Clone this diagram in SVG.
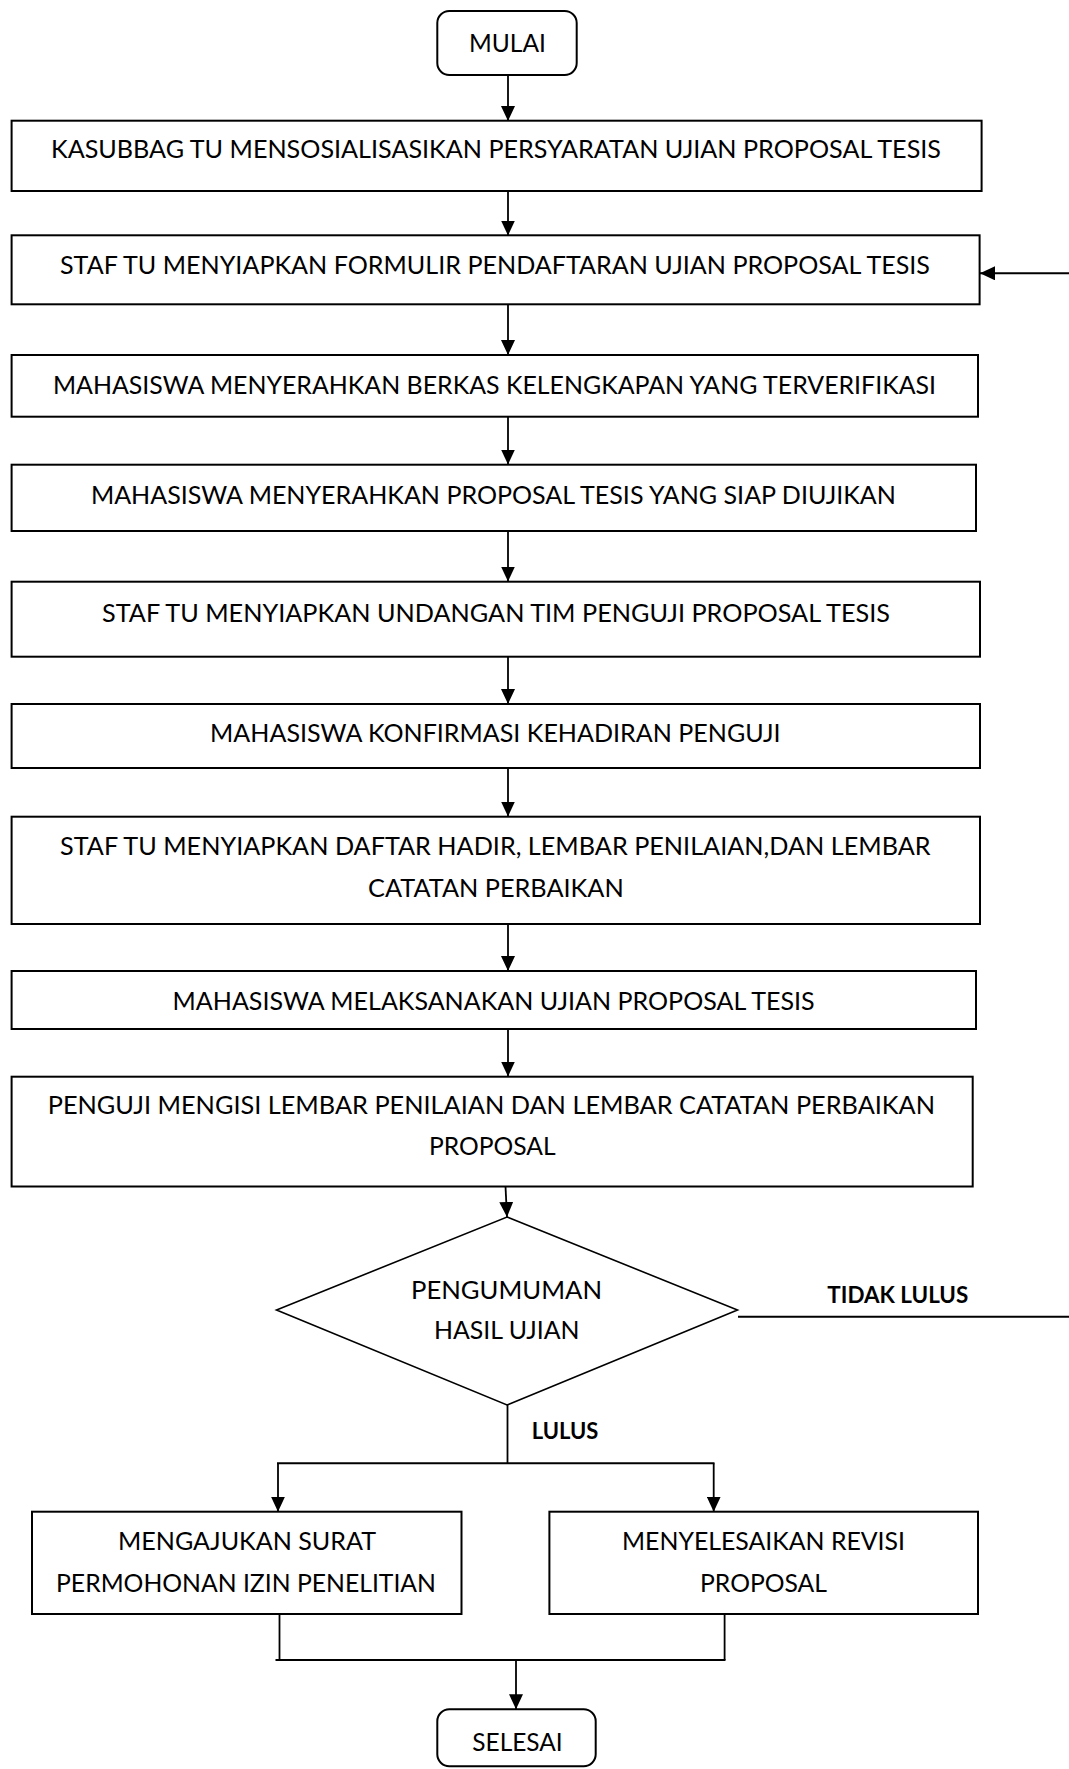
<svg xmlns="http://www.w3.org/2000/svg" width="1069" height="1769" viewBox="0 0 1069 1769">
  <style>
    .box { fill: #ffffff; stroke: #000000; stroke-width: 2; }
    .dec { fill: #ffffff; stroke: #000000; stroke-width: 1.6; }
    .t { font-family: Lato, "Liberation Sans", sans-serif; font-size: 25.5px; fill: #000000; text-anchor: middle; }
    .b { font-family: Lato, "Liberation Sans", sans-serif; font-size: 22.5px; font-weight: bold; fill: #000000; text-anchor: middle; }
    .c { fill: none; stroke: #000000; stroke-width: 1.8; }
    .h { fill: none; stroke: #000000; stroke-width: 2; }
  </style>
  <defs>
    <marker id="arr" markerUnits="userSpaceOnUse" markerWidth="16" markerHeight="14" refX="15" refY="7" orient="auto">
      <path d="M0,0 L15,7 L0,14 Z" fill="#000000"/>
    </marker>
  </defs>
  <rect width="1069" height="1769" fill="#ffffff"/>

  <g id="connectors">
    <line class="c" x1="508" y1="75" x2="508" y2="121" marker-end="url(#arr)"/>
    <line class="c" x1="508" y1="191" x2="508" y2="235.5" marker-end="url(#arr)"/>
    <line class="c" x1="508" y1="304.5" x2="508" y2="355" marker-end="url(#arr)"/>
    <line class="c" x1="508" y1="416.5" x2="508" y2="464.5" marker-end="url(#arr)"/>
    <line class="c" x1="508" y1="531" x2="508" y2="581.5" marker-end="url(#arr)"/>
    <line class="c" x1="508" y1="656.5" x2="508" y2="704" marker-end="url(#arr)"/>
    <line class="c" x1="508" y1="768" x2="508" y2="816.5" marker-end="url(#arr)"/>
    <line class="c" x1="508" y1="924" x2="508" y2="971" marker-end="url(#arr)"/>
    <line class="c" x1="508" y1="1029" x2="508" y2="1076.5" marker-end="url(#arr)"/>
    <line class="c" x1="505.5" y1="1186.5" x2="507" y2="1217" marker-end="url(#arr)"/>
    <polyline class="h" points="738,1316.7 1069,1316.7"/>
    <line class="h" x1="1069" y1="273.3" x2="980" y2="273.3" marker-end="url(#arr)"/>
    <line class="c" x1="507.5" y1="1405" x2="507.5" y2="1463.3"/>
    <line class="h" x1="277" y1="1463.3" x2="714.5" y2="1463.3"/>
    <line class="c" x1="278" y1="1463.3" x2="278" y2="1511.7" marker-end="url(#arr)"/>
    <line class="c" x1="713.7" y1="1463.3" x2="713.7" y2="1511.7" marker-end="url(#arr)"/>
    <line class="c" x1="279.5" y1="1614" x2="279.5" y2="1660"/>
    <line class="c" x1="724.6" y1="1614" x2="724.6" y2="1660"/>
    <line class="h" x1="275.5" y1="1660" x2="725.5" y2="1660"/>
    <line class="c" x1="516" y1="1660" x2="516" y2="1709.3" marker-end="url(#arr)"/>
  </g>

  <g id="mulai">
    <rect class="box" x="437.3" y="11" width="139.4" height="64" rx="12" ry="12"/>
    <text class="t" x="507.5" y="51.7" textLength="77" lengthAdjust="spacingAndGlyphs">MULAI</text>
  </g>
  <g id="kasubbag">
    <rect class="box" x="11.6" y="120.7" width="970" height="70.3"/>
    <text class="t" x="496" y="158" textLength="890" lengthAdjust="spacingAndGlyphs">KASUBBAG TU MENSOSIALISASIKAN PERSYARATAN UJIAN PROPOSAL TESIS</text>
  </g>
  <g id="formulir">
    <rect class="box" x="11.6" y="235.3" width="968" height="69"/>
    <text class="t" x="495" y="273.5" textLength="870" lengthAdjust="spacingAndGlyphs">STAF TU MENYIAPKAN FORMULIR PENDAFTARAN UJIAN PROPOSAL TESIS</text>
  </g>
  <g id="berkas">
    <rect class="box" x="11.6" y="355" width="966.4" height="61.7"/>
    <text class="t" x="494.5" y="393.8" textLength="883" lengthAdjust="spacingAndGlyphs">MAHASISWA MENYERAHKAN BERKAS KELENGKAPAN YANG TERVERIFIKASI</text>
  </g>
  <g id="proposal">
    <rect class="box" x="11.6" y="464.7" width="964.4" height="66.3"/>
    <text class="t" x="493.4" y="504.3" textLength="805" lengthAdjust="spacingAndGlyphs">MAHASISWA MENYERAHKAN PROPOSAL TESIS YANG SIAP DIUJIKAN</text>
  </g>
  <g id="undangan">
    <rect class="box" x="11.6" y="581.7" width="968.4" height="75"/>
    <text class="t" x="496" y="621.8" textLength="788" lengthAdjust="spacingAndGlyphs">STAF TU MENYIAPKAN UNDANGAN TIM PENGUJI PROPOSAL TESIS</text>
  </g>
  <g id="konfirmasi">
    <rect class="box" x="11.6" y="704" width="968.4" height="64"/>
    <text class="t" x="495.3" y="741.8" textLength="570.5" lengthAdjust="spacingAndGlyphs">MAHASISWA KONFIRMASI KEHADIRAN PENGUJI</text>
  </g>
  <g id="daftar">
    <rect class="box" x="11.6" y="816.7" width="968.4" height="107.3"/>
    <text class="t" x="495.3" y="855.3" textLength="870.5" lengthAdjust="spacingAndGlyphs">STAF TU MENYIAPKAN DAFTAR HADIR, LEMBAR PENILAIAN,DAN LEMBAR</text>
    <text class="t" x="495.9" y="896.8" textLength="255.7" lengthAdjust="spacingAndGlyphs">CATATAN PERBAIKAN</text>
  </g>
  <g id="ujian">
    <rect class="box" x="11.6" y="971" width="964.4" height="58"/>
    <text class="t" x="493.6" y="1010.3" textLength="642" lengthAdjust="spacingAndGlyphs">MAHASISWA MELAKSANAKAN UJIAN PROPOSAL TESIS</text>
  </g>
  <g id="penguji">
    <rect class="box" x="11.6" y="1076.7" width="961.1" height="109.8"/>
    <text class="t" x="491.4" y="1113.8" textLength="887.3" lengthAdjust="spacingAndGlyphs">PENGUJI MENGISI LEMBAR PENILAIAN DAN LEMBAR CATATAN PERBAIKAN</text>
    <text class="t" x="492.3" y="1155.3" textLength="126.6" lengthAdjust="spacingAndGlyphs">PROPOSAL</text>
  </g>
  <g id="pengumuman">
    <polygon class="dec" points="507,1217 737.5,1310 507,1405 276.5,1310"/>
    <text class="t" x="506.5" y="1298.8" textLength="191" lengthAdjust="spacingAndGlyphs">PENGUMUMAN</text>
    <text class="t" x="506.8" y="1338.8" textLength="145.5" lengthAdjust="spacingAndGlyphs">HASIL UJIAN</text>
  </g>
  <g id="label-tidak-lulus">
    <text class="b" x="897.8" y="1303.3" textLength="141" lengthAdjust="spacingAndGlyphs">TIDAK LULUS</text>
  </g>
  <g id="label-lulus">
    <text class="b" x="565" y="1439" textLength="66.6" lengthAdjust="spacingAndGlyphs">LULUS</text>
  </g>
  <g id="izin">
    <rect class="box" x="32" y="1511.7" width="429.5" height="102.3"/>
    <text class="t" x="247" y="1550.3" textLength="258" lengthAdjust="spacingAndGlyphs">MENGAJUKAN SURAT</text>
    <text class="t" x="246" y="1591.8" textLength="380" lengthAdjust="spacingAndGlyphs">PERMOHONAN IZIN PENELITIAN</text>
  </g>
  <g id="revisi">
    <rect class="box" x="549.4" y="1511.7" width="428.6" height="102.3"/>
    <text class="t" x="763.5" y="1550.3" textLength="283" lengthAdjust="spacingAndGlyphs">MENYELESAIKAN REVISI</text>
    <text class="t" x="763.5" y="1591.8" textLength="127" lengthAdjust="spacingAndGlyphs">PROPOSAL</text>
  </g>
  <g id="selesai">
    <rect class="box" x="437.3" y="1709.3" width="158.4" height="57" rx="12" ry="12"/>
    <text class="t" x="517.5" y="1751.2" textLength="90.4" lengthAdjust="spacingAndGlyphs">SELESAI</text>
  </g>
</svg>
